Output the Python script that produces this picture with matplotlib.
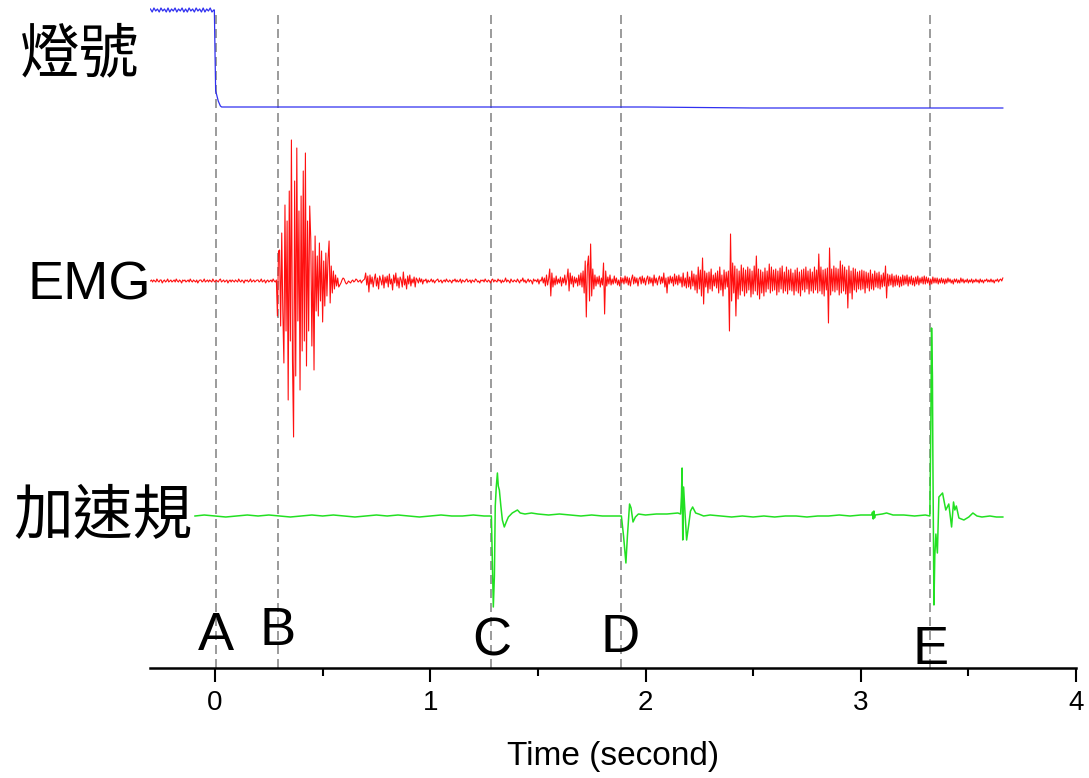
import numpy as np
import matplotlib.pyplot as plt

plt.rcParams['font.family'] = ['Liberation Sans', 'Noto Sans CJK TC']

# light signal (deviation above its low level)
ripple = [98, 95, 99, 96, 98, 95, 99, 96, 98, 95, 99, 95, 98, 96, 99, 95, 98, 96, 99,
          95, 98, 95, 99, 96, 98, 95, 99, 96, 98, 95, 99, 95, 98, 96, 99, 95, 97]
light_tail_t = [-0.003, 0.0, 0.003, 0.008, 0.015, 0.025, 0.031, 0.5, 1.0, 1.5, 2.0, 2.5, 3.0, 3.66]
light_tail_v = [97, 55, 16, 12, 6, 1, 0, 0, 0, 0, 0, -1, -1, -1]

# EMG, one row = 0.1 s, sampled every 5 ms from -0.3 s to 3.66 s
emg = [
    0, 1, -1, 1, 0, -1, 2, 0, -1, 1, 1, -2, 0, 1, -1, 0, 2, -1, 0, 1,
    -1, 0, 1, -1, 2, 0, -1, 1, 0, -2, 1, 0, 1, -1, 0, 1, -1, 2, 0, -1,
    1, 0, -1, 1, -2, 0, 1, 1, -1, 0, 2, -1, 0, 1, -1, 1, 0, -1, 2, 0,
    -1, 1, 0, -1, 1, 2, -1, 0, 1, -1, 0, 1, -2, 0, 1, -1, 1, 0, -1, 1,
    0, -1, 2, 0, -1, 1, 0, -2, 1, 0, 1, -1, 0, 2, -1, 0, 1, -1, 0, 1,
    1, -1, 0, 2, -1, 0, 1, -2, 0, 1, -1, 0, 1, -1, 2, 0, -1, 1, -35, 30,
    31, -45, 48, -30, -82, 76, -50, 60, -119, 90, -60, 141, -80, -156, 100, -95, 133, -40, 70, -109,
    85, -70, 110, -60, 128, -85, 60, -50, 75, 41, -65, 30, -89, 45, -30, 25, -35, 38, -20, 30,
    -41, 20, -25, 28, -15, 22, 40, -22, 15, -12, 10, -8, 6, -5, 3, -6, -4, -2, 1, 3,
    2, -1, -3, -2, 0, -1, -2, 0, 1, -1, 0, 2, 1, -1, 0, 1, -2, 0, 1, 2,
    8, -4, 5, -11, 6, -3, 4, -6, 2, 7, -5, 3, -8, 5, 1, -4, 6, -7, 4, -2,
    5, -6, 7, -3, 2, -9, 6, -2, 8, -5, 3, -7, 4, 1, -6, 9, -4, 2, -8, 5,
    -3, 6, -5, 2, -2, 4, -6, 3, 1, -2, 3, -1, 2, -3, 1, 0, 2, -2, 1, -1,
    0, 2, -1, 1, -2, 0, 1, 2, -1, 0, 1, -2, 0, 1, -1, 2, 0, -1, 1, 0,
    -2, 1, 0, 2, -1, 1, -1, 0, 2, -2, 1, 0, -1, 1, 2, -1, 0, 1, -2, 1,
    0, -1, 2, 1, -1, 0, -2, 1, 0, 1, -1, 2, 0, -1, 1, 0, -2, 1, 2, -1,
    1, 0, -1, 2, 0, 1, -2, 1, -1, 0, 3, -1, 1, 0, -2, 2, 0, -1, 1, 0,
    -1, 2, 0, -2, 1, 0, 3, -1, 1, -2, 0, 2, -1, 1, 0, -3, 2, 0, 1, -1,
    2, -3, 1, 0, 4, -2, 3, -5, 6, -4, 2, 12, -15, 8, -6, 3, -4, 5, -3, 2,
    -2, 4, -5, 3, -2, 6, -4, 2, 12, -10, 8, -3, 5, -6, 4, -2, 3, -5, 6, -4,
    8, -6, 10, -12, 20, -36, 15, 25, -20, 37, -15, 12, -8, 6, -5, 4, -3, 5, -6, 3,
    -4, 18, -33, 10, -5, 4, -3, 6, -4, 2, -3, 5, -2, 3, -4, 1, -5, 4, -2, 3,
    -3, 5, -2, 4, -4, 3, -5, 2, 6, -3, 4, -2, 3, -5, 2, 4, -3, 5, -2, 3,
    -4, 2, 5, -3, 4, -2, 3, -5, 6, -2, 3, -4, 2, 5, -3, 4, -2, 8, -6, 3,
    -12, 4, -3, 5, -2, 4, -5, 7, -3, 5, -4, 6, -2, 4, -6, 8, -5, 3, -7, 9,
    -6, 4, -8, 10, -5, 7, -9, 6, -12, 14, -8, 11, -15, 23, -23, 10, -6, 8, -12, 9,
    -8, 12, -10, 6, -5, 8, -7, 10, -12, 14, -9, 6, -15, 11, -8, 9, -6, 10, -50, 47,
    -20, 18, -12, 15, -35, 12, -18, 10, -14, 16, -10, 13, -15, 11, -12, 14, -9, 12, -16, 10,
    -13, 15, -10, 25, -14, 12, -18, 11, -12, 9, -15, 13, -11, 10, -8, 17, -12, 14, -10, 11,
    -9, 12, -14, 10, -11, 13, -8, 15, -12, 9, -10, 14, -13, 11, -9, 12, -10, 8, -14, 11,
    -10, 13, -12, 9, -15, 11, -9, 12, -11, 14, -8, 10, -13, 12, -10, 9, -12, 14, -9, 11,
    -12, 27, -10, 14, -13, 11, -15, 12, -9, 13, -42, 33, -14, 12, -10, 15, -11, 13, -9, 12,
    -14, 20, -12, 16, -10, 14, -13, 11, -27, 15, -12, 10, -18, 13, -9, 12, -11, 9, -8, 10,
    -9, 11, -8, 10, -12, 9, -7, 8, -10, 11, -8, 7, -9, 10, -6, 8, -7, 9, -8, 6,
    -6, 8, -5, 15, -17, 7, -5, 6, -4, 7, -6, 5, -5, 6, -4, 5, -6, 4, -5, 6,
    -4, 5, -3, 6, -5, 4, -3, 5, -4, 3, -5, 4, -3, 5, -4, 3, -2, 4, -3, 5,
    -3, 4, -2, 3, -4, 2, -3, 4, -2, 3, -2, 3, -3, 2, -2, 3, -2, 2, -3, 2,
    -2, 3, -1, 2, -2, 1, -3, 2, -1, 2, -2, 1, -2, 3, -1, 2, -2, 1, -1, 2,
    -2, 1, -1, 2, -2, 1, -1, 2, -1, 1, -2, 2, -1, 1, -2, 1, 0, 2, -1, 1,
    -1, 2, -1, 1, -2, 1, 0, 2, -1, 1, 2, 0, 3,
]

# accelerometer
acc_t = [-0.093, -0.05, 0.0, 0.05, 0.1, 0.15, 0.2, 0.25, 0.3, 0.35, 0.4, 0.45, 0.5, 0.55,
         0.6, 0.65, 0.7, 0.75, 0.8, 0.85, 0.9, 0.95, 1.0, 1.05, 1.1, 1.15, 1.2, 1.25, 1.284,
         1.288, 1.293, 1.298, 1.302, 1.307, 1.312, 1.316, 1.321, 1.328, 1.335, 1.344, 1.353,
         1.363, 1.381, 1.405, 1.418, 1.44, 1.47, 1.5, 1.55, 1.6, 1.65, 1.7, 1.75, 1.8, 1.85, 1.888,
         1.898, 1.909, 1.916, 1.926, 1.933, 1.942, 1.953, 1.967, 2.0, 2.05, 2.1, 2.15, 2.163,
         2.167, 2.170, 2.173, 2.177, 2.183, 2.191, 2.2, 2.209, 2.219, 2.233, 2.247, 2.27, 2.3,
         2.35, 2.4, 2.45, 2.5, 2.55, 2.6, 2.65, 2.7, 2.75, 2.8, 2.85, 2.9, 2.95, 3.0, 3.05,
         3.055, 3.058, 3.061, 3.064, 3.067, 3.1, 3.12, 3.15, 3.2, 3.25, 3.3, 3.321,
         3.326, 3.329, 3.333, 3.335, 3.340, 3.344, 3.349, 3.356, 3.363, 3.380, 3.395, 3.409,
         3.422, 3.431, 3.437, 3.444, 3.456, 3.479, 3.502, 3.521, 3.540, 3.563, 3.6, 3.63, 3.66]
acc_v = [0, 1, 0, -1, 0, 1, 0, 1, 0, -1, 0, 1, 0, 1,
         0, -1, 0, 1, 0, 1, 0, -1, 0, 1, 0, 0, 1, 0, 0,
         -40, -91, -60, 10, 30, 43, 30, 26, 10, -4, -11, -6,
         -1, 3, 6, 3, 2, 3, 2, 1, 2, 1, 0, 1, 0, 0, 0,
         -20, -47, -20, 12, 8, -6, -1, 2, 1, 2, 2, 3, 2,
         20, 48, -24, 29, 5, -24, -10, 5, 9, 3, 2, 0, 1,
         0, -1, 0, -1, 0, -1, 0, 0, -1, 0, 0, 1, 0, 1, 1,
         4, -3, 5, -2, 1, 2, 3, 1, 1, 0, 1, 0,
         100, 188, 140, 60, -89, -40, -18, -37, 19, 23, 6, 12,
         -11, 14, 6, 10, -2, -4, -1, 3, 0, -1, 0, -1, -1]

events = [0.003, 0.291, 1.284, 1.884, 3.323]
event_names = ['A', 'B', 'C', 'D', 'E']
event_label_y = [18, 23, 12, 16, 4]

light_base, emg_base, acc_base = 561, 387, 152

fig = plt.figure(figsize=(10.89, 7.78), dpi=100)
ax = fig.add_axes([150 / 1089, 110 / 778, 926 / 1089, 668 / 778])
ax.set_xlim(-0.302, 4.0)
ax.set_ylim(0, 668)

light_t = list(np.linspace(-0.3, -0.006, len(ripple))) + light_tail_t
light_v = np.array(ripple + light_tail_v)
ax.plot(light_t, light_base + light_v, color='#3030f0', lw=0.9)

emg_t = np.linspace(-0.3, 3.66, len(emg))
ax.plot(emg_t, emg_base + np.array(emg), color='#ff1010', lw=0.8)

ax.plot(acc_t, acc_base + np.array(acc_v), color='#22e022', lw=1.1)

for t in events:
    ax.plot([t, t], [0, 658], color='#8a8a8a', lw=1.2, ls=(0, (5.4, 3)), zorder=0)

for t, name, y in zip(events, event_names, event_label_y):
    ax.text(t, y, name, fontsize=39, ha='center', va='baseline')

for s in ['left', 'top', 'right']:
    ax.spines[s].set_visible(False)
ax.spines['bottom'].set_linewidth(1.8)
ax.set_yticks([])
ax.set_xticks([0, 1, 2, 3, 4])
ax.set_xticks([0.5, 1.5, 2.5, 3.5], minor=True)
ax.tick_params(axis='x', which='major', length=10, width=1.5, labelsize=20, pad=6)
ax.tick_params(axis='x', which='minor', length=6, width=1.5)

fig.text(613 / 1089, 1 - 757 / 778, 'Time (second)', fontsize=24, ha='center', va='center')
fig.text(80 / 1089, 1 - 57 / 778, '燈號', fontsize=43, ha='center', va='center')
fig.text(89 / 1089, 1 - 285 / 778, 'EMG', fontsize=39, ha='center', va='center')
fig.text(103 / 1089, 1 - 518 / 778, '加速規', fontsize=43, ha='center', va='center')

fig.savefig('out.png', dpi=100)
